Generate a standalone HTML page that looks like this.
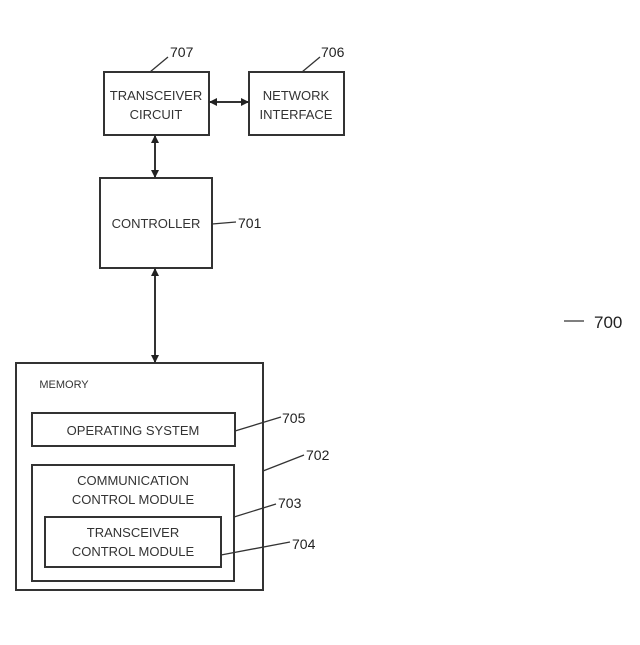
<!DOCTYPE html>
<html><head><style>body{margin:0;background:#fff}</style></head><body>
<svg width="640" height="640" xmlns="http://www.w3.org/2000/svg" font-family="Liberation Sans, sans-serif" fill="none">
<defs><marker id="a" markerWidth="8" markerHeight="8" refX="7" refY="4" orient="auto-start-reverse" markerUnits="userSpaceOnUse"><path d="M0,0 L8,4 L0,8z" fill="#222"/></marker></defs>
<g stroke="#333" stroke-width="2">
<rect x="104" y="72" width="105" height="63"/>
<rect x="249" y="72" width="95" height="63"/>
<rect x="100" y="178" width="112" height="90"/>
<rect x="16" y="363" width="247" height="227"/>
<rect x="32" y="413" width="203" height="33"/>
<rect x="32" y="465" width="202" height="116"/>
<rect x="45" y="517" width="176" height="50"/>
<line x1="210" y1="102" x2="248" y2="102" marker-start="url(#a)" marker-end="url(#a)"/>
<line x1="155" y1="136" x2="155" y2="177" marker-start="url(#a)" marker-end="url(#a)"/>
<line x1="155" y1="269" x2="155" y2="362" marker-start="url(#a)" marker-end="url(#a)"/>
</g>
<g stroke="#333" stroke-width="1.3">
<line x1="150" y1="72" x2="168" y2="57"/>
<line x1="302" y1="72" x2="320" y2="57"/>
<line x1="212" y1="224" x2="236" y2="222"/>
<line x1="235" y1="431" x2="281" y2="417"/>
<line x1="263" y1="471" x2="304" y2="455"/>
<line x1="234" y1="517" x2="276" y2="504"/>
<line x1="221" y1="555" x2="290" y2="542"/>
<line x1="564" y1="321" x2="584" y2="321"/>
</g>
<g fill="#333" font-size="13" text-anchor="middle">
<text x="156" y="100">TRANSCEIVER</text><text x="156" y="119">CIRCUIT</text>
<text x="296" y="100">NETWORK</text><text x="296" y="119">INTERFACE</text>
<text x="156" y="228">CONTROLLER</text>
<text x="133" y="435">OPERATING SYSTEM</text>
<text x="133" y="485">COMMUNICATION</text><text x="133" y="504">CONTROL MODULE</text>
<text x="133" y="537">TRANSCEIVER</text><text x="133" y="556">CONTROL MODULE</text>
<text x="64" y="388" font-size="11">MEMORY</text>
</g>
<g fill="#222" font-size="14">
<text x="170" y="57">707</text><text x="321" y="57">706</text><text x="238" y="228">701</text>
<text x="282" y="423">705</text><text x="306" y="460">702</text><text x="278" y="508">703</text><text x="292" y="549">704</text>
<text x="594" y="328" font-size="17">700</text>
</g>
</svg>
</body></html>
